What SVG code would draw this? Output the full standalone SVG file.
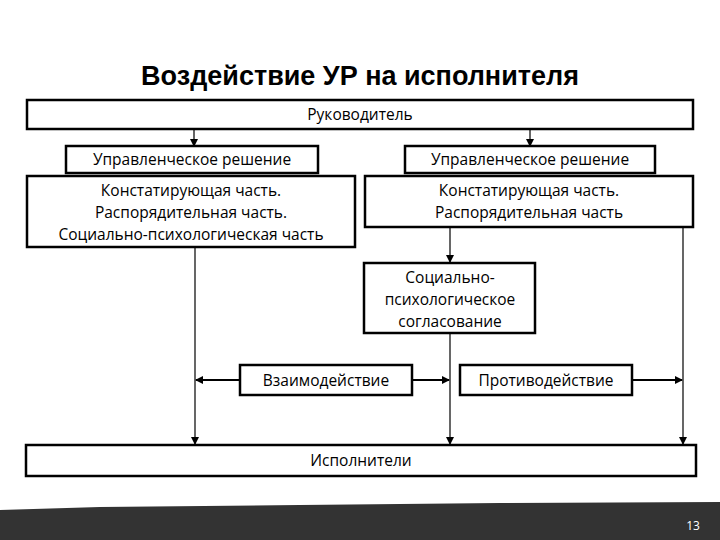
<svg xmlns="http://www.w3.org/2000/svg" width="720" height="540" viewBox="0 0 720 540">
<style>
.b{fill:#fff;stroke:#000;stroke-width:2.5}
.t{font-family:"Open Sans","Liberation Sans",sans-serif;font-size:15.5px;fill:#000;text-anchor:middle}
.c{stroke:#000;stroke-width:1.2;fill:none}
.c2{stroke:#000;stroke-width:2;fill:none}
</style>
<defs><marker id="a" markerWidth="8" markerHeight="8" refX="7" refY="4" orient="auto" markerUnits="userSpaceOnUse"><path d="M0,0 L8,4 L0,8 z" fill="#000"/></marker></defs>
<rect width="720" height="540" fill="#fff"/>
<text x="360" y="85" style="font-family:'Liberation Sans',Arial,sans-serif;font-size:27px;font-weight:bold;text-anchor:middle">Воздействие УР на исполнителя</text>
<g id="connectors">
<path class="c" d="M194,129V146" marker-end="url(#a)"/>
<path class="c" d="M530,129V146" marker-end="url(#a)"/>
<path class="c" d="M195,247V444" marker-end="url(#a)"/>
<path class="c" d="M450,227V262" marker-end="url(#a)"/>
<path class="c" d="M683,227V444" marker-end="url(#a)"/>
<path class="c" d="M450,333V444" marker-end="url(#a)"/>
<path class="c2" d="M240,380H196" marker-end="url(#a)"/>
<path class="c2" d="M412,380H449" marker-end="url(#a)"/>
<path class="c2" d="M632,380H682" marker-end="url(#a)"/>
</g>
<g id="ruk"><rect class="b" x="27" y="100" width="666" height="29"/><text class="t" x="360" y="120">Руководитель</text></g>
<g id="ur1"><rect class="b" x="66" y="146" width="252" height="27"/><text class="t" x="192" y="165">Управленческое решение</text></g>
<g id="ur2"><rect class="b" x="405" y="146" width="250" height="27"/><text class="t" x="530" y="165">Управленческое решение</text></g>
<g id="p1"><rect class="b" x="27" y="176" width="328" height="71"/><text class="t" x="191" y="196">Констатирующая часть.</text><text class="t" x="191" y="218">Распорядительная часть.</text><text class="t" x="191" y="240">Социально-психологическая часть</text></g>
<g id="p2"><rect class="b" x="365" y="176" width="328" height="51"/><text class="t" x="529" y="196">Констатирующая часть.</text><text class="t" x="529" y="218">Распорядительная часть</text></g>
<g id="soc"><rect class="b" x="364" y="263" width="171" height="70"/><text class="t" x="450" y="283">Социально-</text><text class="t" x="450" y="305">психологическое</text><text class="t" x="450" y="327">согласование</text></g>
<g id="vz"><rect class="b" x="240" y="365" width="172" height="30"/><text class="t" x="326" y="386">Взаимодействие</text></g>
<g id="pr"><rect class="b" x="460" y="365" width="172" height="30"/><text class="t" x="546" y="386">Противодействие</text></g>
<g id="isp"><rect class="b" x="26" y="445" width="670" height="31"/><text class="t" x="361" y="466">Исполнители</text></g>
<path d="M0,510 L100,507 L300,505 L500,503 L720,502 V540 H0z" fill="#333"/>
<text x="693" y="530" style="font-family:'Open Sans',sans-serif;font-size:12px;fill:#fff;text-anchor:middle">13</text>
</svg>
